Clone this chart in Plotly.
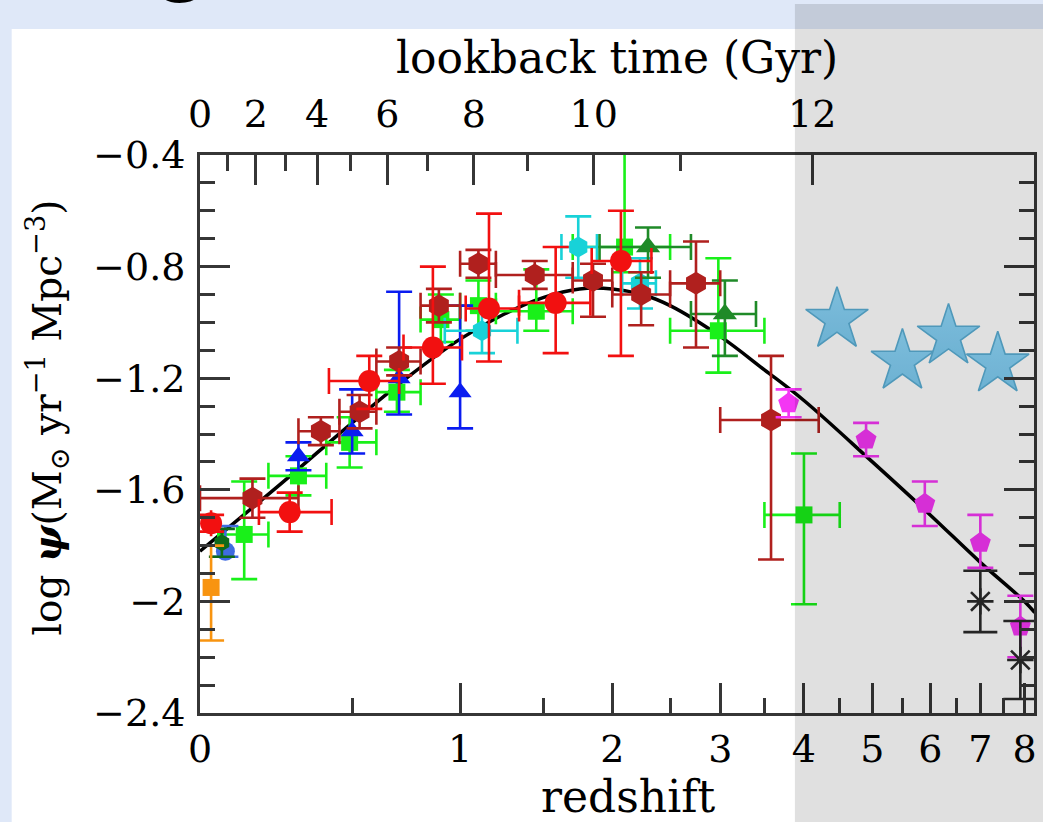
import numpy as np
import plotly.graph_objects as go

# ---------------- data: log10 cosmic star-formation-rate density ----------------
# far-IR, dark red hexagons
gru_z   = [0.15, 0.38, 0.53, 0.70, 0.89, 1.10, 1.44, 1.85, 2.24, 2.75, 3.58]
gru_zlo = [0.00, 0.30, 0.45, 0.60, 0.80, 1.00, 1.20, 1.70, 2.00, 2.50, 3.00]
gru_zhi = [0.30, 0.45, 0.60, 0.80, 1.00, 1.20, 1.70, 2.00, 2.50, 3.00, 4.20]
gru_psi = [-1.63, -1.39, -1.32, -1.14, -0.94, -0.79, -0.83, -0.85, -0.90, -0.86, -1.35]
gru_up  = [0.07, 0.05, 0.06, 0.05, 0.06, 0.05, 0.05, 0.06, 0.08, 0.15, 0.23]
gru_dn  = [0.07, 0.05, 0.06, 0.05, 0.06, 0.05, 0.05, 0.13, 0.11, 0.23, 0.50]

# IR, red circles
red_z   = [0.03, 0.27, 0.57, 0.86, 1.16, 1.58, 2.07]
red_zlo = [0.03, 0.17, 0.41, 0.72, 1.03, 1.34, 1.84]
red_zhi = [0.03, 0.42, 0.70, 1.01, 1.34, 1.83, 2.33]
red_psi = [-1.72, -1.68, -1.21, -1.09, -0.95, -0.93, -0.78]
red_up  = [0.03, 0.07, 0.09, 0.29, 0.34, 0.20, 0.18]
red_dn  = [0.03, 0.07, 0.10, 0.13, 0.19, 0.18, 0.34]

# UV, light green squares
cuc_z   = [0.125, 0.30, 0.49, 0.69, 0.90, 1.10, 1.45, 2.10, 2.98, 4.00]
cuc_zlo = [0.05, 0.20, 0.40, 0.60, 0.80, 1.00, 1.20, 1.70, 2.50, 3.50]
cuc_zhi = [0.20, 0.40, 0.60, 0.80, 1.00, 1.20, 1.70, 2.50, 3.50, 4.50]
cuc_psi = [-1.76, -1.55, -1.43, -1.25, -0.99, -0.94, -0.96, -0.73, -1.03, -1.69]
cuc_up  = [0.19, 0.07, 0.09, 0.08, 0.09, 0.09, 0.15, 0.49, 0.26, 0.22]
cuc_dn  = [0.16, 0.07, 0.09, 0.07, 0.08, 0.09, 0.07, 0.09, 0.15, 0.32]

# UV, cyan
dah_z   = [1.12, 1.74, 2.23]
dah_zlo = [0.92, 1.62, 2.08]
dah_zhi = [1.33, 1.88, 2.37]
dah_psi = [-1.03, -0.73, -0.86]
dah_up  = [0.08, 0.11, 0.09]
dah_dn  = [0.08, 0.11, 0.09]

# UV, dark green triangles
rs_z   = [2.30, 3.05]
rs_zlo = [1.90, 2.70]
rs_zhi = [2.70, 3.40]
rs_psi = [-0.73, -0.97]
rs_up  = [0.07, 0.12]
rs_dn  = [0.11, 0.15]

# UV, blue triangles
sch_z   = [0.30, 0.50, 0.70, 1.00]
sch_psi = [-1.48, -1.39, -1.20, -1.25]
sch_up  = [0.05, 0.15, 0.31, 0.31]
sch_dn  = [0.05, 0.08, 0.13, 0.13]

# local measurements
wy_z,  wy_psi,  wy_up,  wy_dn  = [0.07], [-1.82], [0.09], [0.02]
rd_z,  rd_psi,  rd_up,  rd_dn  = [0.06], [-1.79], [0.05], [0.05]
tk_z,  tk_psi,  tk_up,  tk_dn  = [0.03], [-1.95], [0.15], [0.19]

# high-z UV, magenta pentagons
bou_z   = [3.8, 4.9, 5.9, 7.0, 7.9]
bou_psi = [-1.29, -1.42, -1.65, -1.79, -2.09]
bou_up  = [0.05, 0.06, 0.08, 0.10, 0.11]
bou_dn  = [0.05, 0.06, 0.08, 0.09, 0.11]

# high-z UV, black asterisks
sk_z   = [7.0, 7.9]
sk_psi = [-2.00, -2.21]
sk_up  = [0.11, 0.14]
sk_dn  = [0.11, 0.14]

# best-fit star-formation history
fit_z   = [0, 0.25, 0.5, 0.75, 1.0, 1.25, 1.5, 1.75, 2.0, 2.25, 2.5, 3.0, 3.5, 4.0, 5.0, 6.0, 7.0, 8.0, 8.25]
fit_psi = [-1.82, -1.57, -1.36, -1.19, -1.06, -0.97, -0.91, -0.88, -0.88, -0.90, -0.94,
           -1.05, -1.17, -1.28, -1.50, -1.69, -1.86, -2.00, -2.04]

# highlighted stars
star_z   = [4.46, 5.50, 6.35, 7.38]
star_psi = [-0.99, -1.14, -1.05, -1.15]

# axis ticks
z_major = [0, 1, 2, 3, 4, 5, 6, 7, 8]
z_minor = [0.5, 1.5, 2.5, 3.5, 4.5, 5.5, 6.5, 7.5]
y_ticks = [-0.4, -0.8, -1.2, -1.6, -2.0, -2.4]
y_labels = ["\u22120.4", "\u22120.8", "\u22121.2", "\u22121.6", "\u22122", "\u22122.4"]
lookback_major = [0, 2, 4, 6, 8, 10, 12]
lookback_minor = [1, 3, 5, 7, 9, 11]

Z_MAX = 8.23
Y_RANGE = [-2.4, -0.4]

# ---------------- lookback time -> redshift (flat LCDM, H0=70, Om=0.3) ----------------
H0, OM = 70.0, 0.3
hubble_time = 977.8 / H0
zg = np.linspace(0, 12, 24001)
integrand = 1.0 / ((1 + zg) * np.sqrt(OM * (1 + zg) ** 3 + 1 - OM))
tl = hubble_time * np.concatenate([[0], np.cumsum(0.5 * (integrand[1:] + integrand[:-1]) * np.diff(zg))])


def z_of_lookback(t):
    return np.interp(t, tl, zg)


def onep(z):
    return [1 + v for v in z]


def diff(a, b):
    return [x - y for x, y in zip(a, b)]


FONT = "DejaVu Serif"
fig = go.Figure()

fig.add_trace(go.Scatter(
    x=onep(fit_z), y=fit_psi, mode="lines", line=dict(color="black", width=3.5, shape="spline", smoothing=1.0),
    hoverinfo="skip", showlegend=False))


def add_series(z, psi, up, dn, color, symbol, size, zlo=None, zhi=None, line=None, cap=13):
    err_x = None
    if zlo is not None:
        err_x = dict(type="data", symmetric=False, array=diff(zhi, z), arrayminus=diff(z, zlo),
                     color=color, thickness=2.6, width=cap)
    marker = dict(color=color, symbol=symbol, size=size)
    if line is not None:
        marker["line"] = line
    fig.add_trace(go.Scatter(
        x=onep(z), y=psi, mode="markers", marker=marker,
        error_y=dict(type="data", symmetric=False, array=up, arrayminus=dn, color=color, thickness=2.6, width=cap),
        error_x=err_x, showlegend=False, cliponaxis=True))


add_series(cuc_z, cuc_psi, cuc_up, cuc_dn, "#19f019", "square", 17, cuc_zlo, cuc_zhi)
add_series(sch_z, sch_psi, sch_up, sch_dn, "#0a1cf0", "triangle-up", 20)
add_series(dah_z, dah_psi, dah_up, dah_dn, "#18d2d8", "hexagon", 21, dah_zlo, dah_zhi)
add_series(rs_z, rs_psi, rs_up, rs_dn, "#1f8a28", "triangle-up", 21, rs_zlo, rs_zhi)
add_series(wy_z, wy_psi, wy_up, wy_dn, "#3f6be0", "circle", 19)
add_series(rd_z, rd_psi, rd_up, rd_dn, "#0f6a1a", "hexagon", 17)
add_series(tk_z, tk_psi, tk_up, tk_dn, "#f89410", "square", 17)
add_series(gru_z, gru_psi, gru_up, gru_dn, "#b0201e", "hexagon", 23, gru_zlo, gru_zhi)
add_series(red_z, red_psi, red_up, red_dn, "#f21010", "circle", 22, red_zlo, red_zhi)
add_series(bou_z, bou_psi, bou_up, bou_dn, "#f436f4", "pentagon", 22)
add_series(sk_z, sk_psi, sk_up, sk_dn, "#2a2a2a", "asterisk-open", 22,
           line=dict(color="#2a2a2a", width=2.6), cap=17)

fig.add_trace(go.Scatter(
    x=onep(star_z), y=star_psi, mode="markers",
    marker=dict(symbol="star", size=47, color="#8fd8fa", line=dict(color="#5aaed4", width=1.6),
                gradient=dict(type="vertical", color="#7ccaf0")),
    showlegend=False, cliponaxis=False))

# invisible trace to carry the lookback-time axis
fig.add_trace(go.Scatter(x=[1, 1 + Z_MAX], y=[-1, -1], xaxis="x2", mode="markers",
                         marker=dict(opacity=0), hoverinfo="skip", showlegend=False))

xr = [0, float(np.log10(1 + Z_MAX))]
axis_line = "#363636"
tickfont = dict(family=FONT, size=38, color="black")

fig.update_layout(
    width=1043, height=822,
    margin=dict(l=200, r=6, t=155, b=109),
    paper_bgcolor="#dfe8f8", plot_bgcolor="white",
    xaxis=dict(type="log", range=xr, tickmode="array", tickvals=onep(z_major), ticktext=[str(v) for v in z_major],
               ticks="inside", ticklen=30, tickwidth=3, tickcolor=axis_line, showline=True, linewidth=3,
               linecolor=axis_line, mirror=False, showgrid=False, zeroline=False, tickfont=tickfont,
               ticklabelstandoff=0,
               minor=dict(tickmode="array", tickvals=onep(z_minor), ticks="inside", ticklen=15, tickwidth=3,
                          tickcolor=axis_line, showgrid=False)),
    xaxis2=dict(type="log", range=xr, overlaying="x", side="top", tickmode="array",
                tickvals=[1 + float(z_of_lookback(t)) for t in lookback_major],
                ticktext=[str(t) for t in lookback_major],
                ticks="inside", ticklen=30, tickwidth=3, tickcolor=axis_line, showline=True, linewidth=3,
                linecolor=axis_line, showgrid=False, zeroline=False, tickfont=tickfont, ticklabelstandoff=10,
                minor=dict(tickmode="array", tickvals=[1 + float(z_of_lookback(t)) for t in lookback_minor],
                           ticks="inside", ticklen=16, tickwidth=3, tickcolor=axis_line, showgrid=False)),
    yaxis=dict(range=Y_RANGE, tickmode="array", tickvals=y_ticks, ticktext=y_labels, ticks="inside",
               ticklen=30, tickwidth=3, tickcolor=axis_line, showline=True, linewidth=3, linecolor=axis_line,
               mirror="ticks", showgrid=False, zeroline=False, tickfont=tickfont, ticklabelstandoff=4,
               minor=dict(dtick=0.1, tick0=-0.4, ticks="inside", ticklen=15, tickwidth=3, tickcolor=axis_line,
                          showgrid=False)),
)

# white panel behind the chart and the translucent band over the high-redshift side
fig.add_shape(type="rect", xref="paper", yref="paper", x0=-0.2258, x1=1.2, y0=-0.5, y1=1.2258,
              fillcolor="white", line=dict(width=0), layer="below")
fig.add_shape(type="rect", xref="paper", yref="paper", x0=0.7133, x1=1.2, y0=-0.5, y1=1.2706,
              fillcolor="rgba(0,0,0,0.12)", line=dict(width=0), layer="above")

fig.add_annotation(text="redshift", xref="paper", yref="paper", x=0.514, y=-0.1505, showarrow=False,
                   font=dict(family=FONT, size=44, color="black"), xanchor="center", yanchor="middle")
fig.add_annotation(text="lookback time (Gyr)", xref="paper", yref="paper", x=0.4996, y=1.1756,
                   showarrow=False, font=dict(family=FONT, size=44, color="black"),
                   xanchor="center", yanchor="middle")
fig.add_annotation(text="log <b><i>\u03c8</i></b>(M<sub>\u2299</sub> yr<sup>\u22121</sup> Mpc<sup>\u22123</sup>)",
                   xref="paper", yref="paper", x=-0.1828, y=0.5287, textangle=-90, showarrow=False,
                   font=dict(family=FONT, size=39, color="black"), xanchor="center", yanchor="middle")
fig.add_annotation(text="g", xref="paper", yref="paper", x=-0.0239, y=1.268, showarrow=False,
                   font=dict(family="Liberation Sans", size=110, color="black"), xanchor="center",
                   yanchor="bottom")

fig.write_html("out.html")
